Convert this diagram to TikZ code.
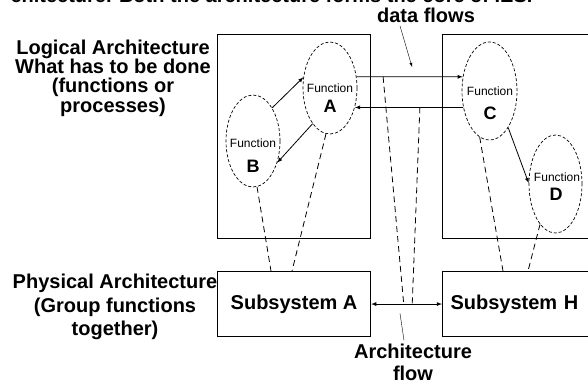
\documentclass[tikz,border=0pt]{standalone}
\usepackage{fontspec}
\setmainfont{Liberation Sans}
\usetikzlibrary{arrows.meta, positioning, shapes, calc}

\begin{document}
\begin{tikzpicture}[x=1pt, y=-1pt, auto,
    box/.style={draw, line width=1.1pt, inner sep=0pt},
    fn/.style={draw, ellipse, densely dashed, line width=0.7pt, inner sep=0pt},
    lbl/.style={font=\bfseries\fontsize{20}{18.5}\selectfont, align=center},
    small/.style={font=\fontsize{12}{12}\selectfont, inner sep=0pt},
    letter/.style={font=\bfseries\fontsize{18}{18}\selectfont, inner sep=0pt},
    map/.style={dash pattern=on 6pt off 4pt, line width=0.8pt}]
    \useasboundingbox (0,0) rectangle (588,383);

    \node[font=\bfseries\fontsize{20}{20}\selectfont, anchor=base east] (top) at (536,2.5) {chitecture. Both the architecture forms the core of IES.};

    % the two levels
    \node[box, minimum width=153pt, minimum height=204pt, anchor=north west] (logL) at (217,34) {};
    \node[box, minimum width=170pt, minimum height=204pt, anchor=north west] (logR) at (442,34) {};
    \node[box, lbl, minimum width=153pt, minimum height=65pt, anchor=north west] (subA) at (217,271) {Subsystem A};
    \node[box, lbl, minimum height=65pt, text width=154pt, align=left, inner xsep=8pt, anchor=north west] (subH) at (442,271) {Subsystem H};

    \node[fn, minimum width=54pt, minimum height=92pt] (fA) at (330,88) {};
    \node[fn, minimum width=54pt, minimum height=92pt] (fB) at (253,141) {};
    \node[fn, minimum width=55pt, minimum height=98pt] (fC) at (489.5,91) {};
    \node[fn, minimum width=53pt, minimum height=98pt] (fD) at (555.5,184) {};

    \node[small] (tA) at (330,88) {Function};
    \node[letter] (lA) at (330,106) {A};
    \node[small] (tB) at (253,143) {Function};
    \node[letter] (lB) at (253,166) {B};
    \node[small] (tC) at (490,91) {Function};
    \node[letter] (lC) at (490,113) {C};
    \node[small] (tD) at (557,177) {Function};
    \node[letter] (lD) at (556,194) {D};

    \draw[-latex, thick] (fB.60) -- (fA.158);
    \draw[-latex, thick] (fA.244) -- (fB.318);
    \draw[-latex, thick] (fA.23) -- coordinate[pos=0.25] (d1) (fC.152);
    \draw[-latex, thick] (fC.212) -- coordinate[pos=0.4] (d2) (fA.322);
    \draw[-latex, thick] (fC.297) -- (fD.178);
    \draw[latex-latex, thick] (subA) -- coordinate[pos=0.46] (f1) coordinate[pos=0.58] (f2) (subH);

    \draw[map] (fB.275) -- ([xshift=54pt]subA.north west);
    \draw[map] (fA.265) -- ([xshift=75pt]subA.north west);
    \draw[map] (fC.258) -- ([xshift=61pt]subH.north west);
    \draw[map] (fD.249) -- ([xshift=86pt]subH.north west);
    \draw[map] (d1) -- (f1);
    \draw[map] (d2) -- (f2);

    % side labels
    \node[lbl] (logtxt) at (113,78) {Logical Architecture\\What has to be done\\(functions or\\processes)};
    \node[lbl, font=\bfseries\fontsize{20}{23.5}\selectfont] (phys) at (115,307) {Physical Architecture\\(Group functions\\together)};
    \node[lbl, font=\bfseries\fontsize{20}{22}\selectfont, inner sep=1pt] (aflow) at (413,362) {Architecture\\flow};
    \node[lbl] (dflow) at (426,15) {data flows};

    \draw[thin] ([xshift=-9pt,yshift=2pt]aflow.north) -- ++(-4,-27);
    \draw[-latex, thin] ([xshift=-26pt]dflow.south) -- ++(12,41);
\end{tikzpicture}
\end{document}
